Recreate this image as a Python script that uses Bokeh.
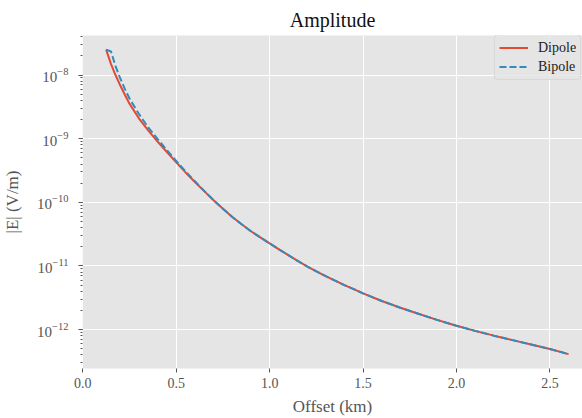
from bokeh.plotting import figure
from bokeh.models import Range1d, CustomJSTickFormatter, LogTicker, FixedTicker, Legend, LegendItem
from bokeh.embed import file_html
from bokeh.resources import INLINE

# Offsets (km) and amplitudes |E| (V/m)
dipole_x = [0.125, 0.15, 0.175, 0.2, 0.225, 0.25, 0.3, 0.35, 0.4, 0.45, 0.5, 0.55, 0.6, 0.65,
            0.7, 0.75, 0.8, 0.85, 0.9, 0.95, 1.0, 1.05, 1.1, 1.15, 1.2, 1.25, 1.3, 1.35, 1.4,
            1.45, 1.5, 1.6, 1.7, 1.8, 1.9, 2.0, 2.1, 2.2, 2.3, 2.4, 2.5, 2.6]
dipole_e = [2.51e-8, 1.51e-8, 1.00e-8, 6.92e-9, 4.90e-9, 3.55e-9, 2.09e-9, 1.35e-9, 9.02e-10,
            6.17e-10, 4.27e-10, 2.95e-10, 2.09e-10, 1.50e-10, 1.08e-10, 7.94e-11, 5.89e-11,
            4.52e-11, 3.51e-11, 2.82e-11, 2.26e-11, 1.82e-11, 1.48e-11, 1.20e-11, 9.89e-12,
            8.22e-12, 6.92e-12, 5.89e-12, 5.01e-12, 4.32e-12, 3.72e-12, 2.82e-12, 2.21e-12,
            1.76e-12, 1.41e-12, 1.15e-12, 9.55e-13, 8.04e-13, 6.84e-13, 5.82e-13, 4.95e-13,
            4.12e-13]
bipole_x = [0.125, 0.151, 0.175, 0.2, 0.225, 0.25, 0.3, 0.35, 0.4, 0.45, 0.5, 0.55, 0.6, 0.65,
            0.7, 0.75, 0.8, 0.85, 0.9, 0.95, 1.0, 1.05, 1.1, 1.15, 1.2, 1.25, 1.3, 1.35, 1.4,
            1.45, 1.5, 1.6, 1.7, 1.8, 1.9, 2.0, 2.1, 2.2, 2.3, 2.4, 2.5, 2.6]
bipole_e = [2.51e-8, 2.34e-8, 1.38e-8, 8.91e-9, 6.03e-9, 4.27e-9, 2.45e-9, 1.51e-9, 9.89e-10,
            6.61e-10, 4.47e-10, 3.05e-10, 2.14e-10, 1.51e-10, 1.08e-10, 7.94e-11, 5.89e-11,
            4.52e-11, 3.51e-11, 2.82e-11, 2.26e-11, 1.82e-11, 1.48e-11, 1.20e-11, 9.89e-12,
            8.22e-12, 6.92e-12, 5.89e-12, 5.01e-12, 4.32e-12, 3.72e-12, 2.82e-12, 2.21e-12,
            1.76e-12, 1.41e-12, 1.15e-12, 9.55e-13, 8.04e-13, 6.84e-13, 5.82e-13, 4.95e-13,
            4.12e-13]
x_ticks = [0.0, 0.5, 1.0, 1.5, 2.0, 2.5]

FONT = "Liberation Serif"
GREY = "#555555"

p = figure(width=582, height=418, y_axis_type="log", output_backend="svg",
           toolbar_location=None, title="Amplitude",
           x_range=Range1d(-0.0016, 2.6745), y_range=Range1d(2.45e-13, 4.18e-8),
           min_border_left=80, min_border_right=0, min_border_bottom=46, min_border_top=35)

p.background_fill_color = "#E5E5E5"
p.border_fill_color = "white"
p.outline_line_color = None

p.title.align = "center"
p.title.text_font = FONT
p.title.text_font_size = "20px"
p.title.text_font_style = "normal"
p.title.text_color = "#111111"

for ax in (p.xaxis[0], p.yaxis[0]):
    ax.axis_line_color = None
    ax.major_tick_line_color = GREY
    ax.minor_tick_line_color = GREY
    ax.major_tick_in = 0
    ax.major_tick_out = 4
    ax.minor_tick_in = 0
    ax.minor_tick_out = 2
    ax.major_label_text_font = FONT
    ax.major_label_text_font_size = "14px"
    ax.major_label_text_color = GREY
    ax.axis_label_text_font = FONT
    ax.axis_label_text_font_size = "17px"
    ax.axis_label_text_font_style = "normal"
    ax.axis_label_text_color = GREY

p.xaxis.ticker = FixedTicker(ticks=x_ticks)
p.xaxis.formatter = CustomJSTickFormatter(code="return tick.toFixed(1);")
p.xaxis.minor_tick_line_color = None
p.xaxis.major_label_standoff = 5
p.xaxis.axis_label_standoff = 6
p.xaxis.axis_label = "Offset (km)"

p.yaxis.ticker = LogTicker(num_minor_ticks=10)
p.yaxis.axis_label = "|E| (V/m)"
p.yaxis.major_label_text_font_size = "15px"
p.yaxis.major_label_standoff = 10
p.yaxis.axis_label_standoff = 12

p.xgrid.grid_line_color = "white"
p.ygrid.grid_line_color = "white"
p.xgrid.grid_line_width = 1
p.ygrid.grid_line_width = 1

r1 = p.line(dipole_x, dipole_e, line_color="#E24A33", line_width=2)
r2 = p.line(bipole_x, bipole_e, line_color="#348ABD", line_width=2, line_dash="7 3")

legend = Legend(items=[LegendItem(label="Dipole", renderers=[r1]),
                       LegendItem(label="Bipole", renderers=[r2])],
                location=(412, 288))
legend.label_text_font = FONT
legend.label_text_font_size = "14px"
legend.label_text_color = "#222222"
legend.background_fill_color = "#E5E5E5"
legend.background_fill_alpha = 0.8
legend.border_line_color = "#CCCCCC"
legend.border_radius = 4
legend.glyph_width = 29
legend.glyph_height = 17
legend.label_height = 17
legend.label_standoff = 10
legend.spacing = 2
legend.padding = 4
legend.margin = 0
p.add_layout(legend)

open("out.html", "w").write(file_html(p, INLINE))
